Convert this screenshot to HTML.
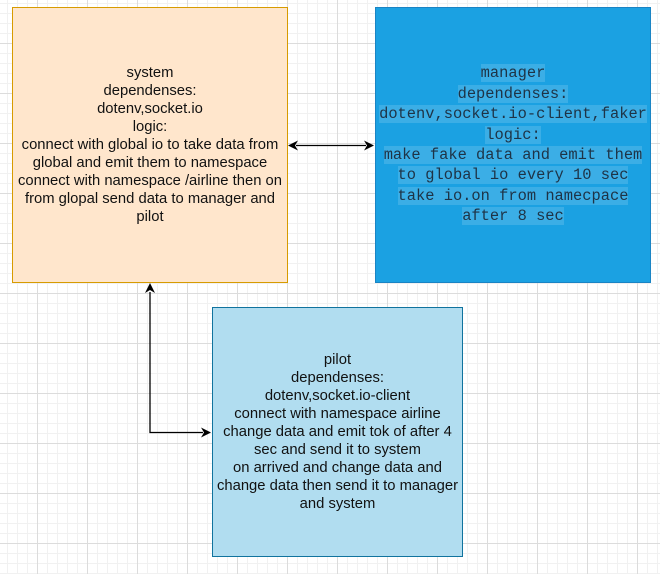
<!DOCTYPE html>
<html><head><meta charset="utf-8"><style>
html,body{margin:0;padding:0}
body{width:660px;height:574px;position:relative;overflow:hidden;background:#fff;
background-image:
linear-gradient(#dcdcdc 1px,transparent 1px),
linear-gradient(90deg,#dcdcdc 1px,transparent 1px),
linear-gradient(#f1f1f1 1px,transparent 1px),
linear-gradient(90deg,#f1f1f1 1px,transparent 1px);
background-size:50px 50px,50px 50px,10px 10px,10px 10px;
background-position:0 43px,37px 0,0 3px,7px 0;}
.box{position:absolute;box-sizing:border-box;display:flex;align-items:center;justify-content:center;text-align:center}
.sys{left:12px;top:7px;width:276px;height:276px;background:#ffe6cc;border:1px solid #d79b00;font:14.8px/18px "Liberation Sans",sans-serif;color:#111}
.man{left:375px;top:7px;width:276px;height:276px;background:#1ba1e2;border:1px solid #1a84c4;font:15.4px/20.4px "Liberation Mono",monospace;color:#1e3346}
.man span{background:rgba(255,255,255,0.14)}
.pil{left:212px;top:307px;width:251px;height:250px;background:#b1ddf0;border:1px solid #10739e;font:14.8px/18px "Liberation Sans",sans-serif;color:#111}
svg{position:absolute;left:0;top:0}
</style></head><body>
<div class="box sys"><div>system<br>dependenses:<br>dotenv,socket.io<br>logic:<br>connect with global io to take data from<br>global and emit them to namespace<br>connect with namespace /airline then on<br>from glopal send data to manager and<br>pilot</div></div>
<div class="box man"><div><span>manager</span><br><span>dependenses:</span><br><span>dotenv,socket.io-client,faker</span><br><span>logic:</span><br><span>make fake data and emit them</span><br><span>to global io every 10 sec</span><br><span>take io.on from namecpace</span><br><span>after 8 sec</span></div></div>
<div class="box pil"><div>pilot<br>dependenses:<br>dotenv,socket.io-client<br>connect with namespace airline<br>change data and emit tok of after 4<br>sec and send it to system<br>on arrived and change data and<br>change data then send it to manager<br>and system</div></div>
<svg width="660" height="574">
<g stroke="#000" stroke-width="1.3" fill="none">
<line x1="296" y1="145.5" x2="366" y2="145.5"/>
<polyline points="150,292 150,432.5 203,432.5"/>
</g>
<g fill="#000">
<polygon points="288,145.5 298,140.5 295,145.5 298,150.5"/>
<polygon points="374,145.5 364,140.5 367,145.5 364,150.5"/>
<polygon points="150,283 145,293 150,290 155,293"/>
<polygon points="211,432.5 201,427.5 204,432.5 201,437.5"/>
</g>
</svg>
</body></html>
